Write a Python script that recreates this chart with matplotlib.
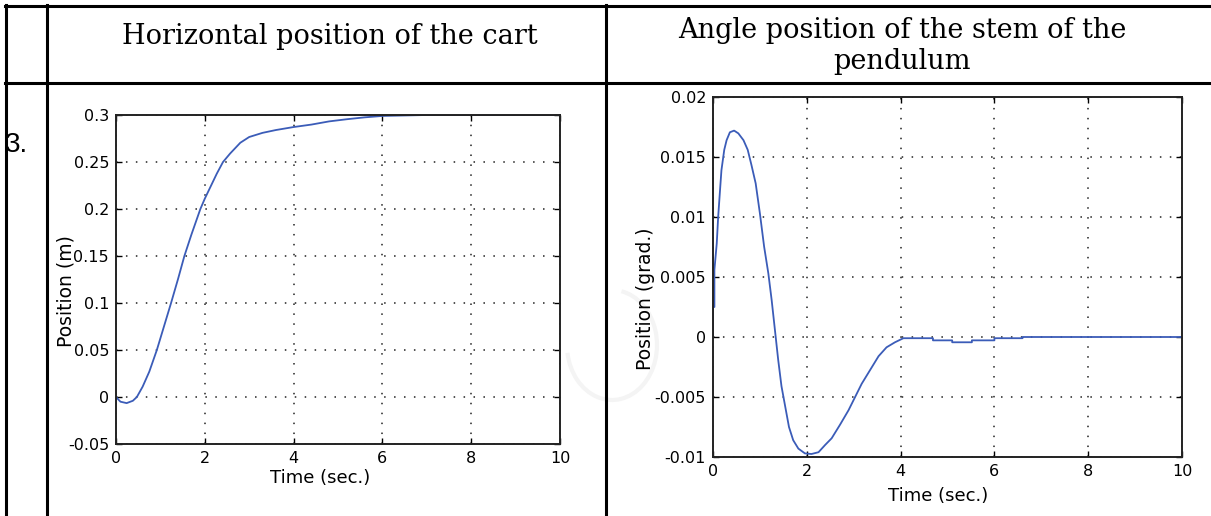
import numpy as np
import matplotlib.pyplot as plt
from matplotlib.patches import Arc

# datos
cart_t = [0, 0.1, 0.24, 0.38, 0.47, 0.6, 0.75, 0.92, 1.08, 1.24, 1.4, 1.54, 1.7, 1.9,
          2.0, 2.27, 2.41, 2.57, 2.8, 3.0, 3.3, 3.6, 4.0, 4.4, 4.8, 5.2, 5.6, 6.0, 6.5, 7.0, 10]
cart_x = [0, -0.005, -0.0065, -0.004, 0, 0.011, 0.027, 0.05, 0.075, 0.1, 0.126, 0.15, 0.173, 0.2,
          0.211, 0.2376, 0.25, 0.259, 0.2705, 0.2766, 0.281, 0.284, 0.2872, 0.2898, 0.2932,
          0.2955, 0.2975, 0.299, 0.2995, 0.3, 0.3]

ang_t = [0, 0.0, 0.03, 0.03, 0.08, 0.11, 0.15, 0.18, 0.24, 0.29, 0.36, 0.45, 0.54, 0.65, 0.74,
         0.82, 0.91, 1.0, 1.09, 1.18, 1.25, 1.32, 1.39, 1.46, 1.54, 1.62, 1.71, 1.82, 1.96, 2.1,
         2.25, 2.39, 2.53, 2.71, 2.89, 3.03, 3.17, 3.35, 3.53, 3.7, 3.88, 4.06, 4.69, 4.69, 5.1,
         5.1, 5.52, 5.52, 6.0, 6.0, 6.6, 6.6, 10]
ang_y = [0, 0.0025, 0.0025, 0.0056, 0.0078, 0.01, 0.01225, 0.0139, 0.0156, 0.0164, 0.01706,
         0.0172, 0.01697, 0.0164, 0.0156, 0.01433, 0.0128, 0.0103, 0.00753, 0.0053, 0.0031,
         0.0006, -0.0019, -0.0041, -0.0058, -0.0075, -0.0086, -0.0093, -0.0097, -0.00975,
         -0.0096, -0.009, -0.00844, -0.0073, -0.0061, -0.005, -0.0039, -0.00275, -0.0016,
         -0.00086, -0.00044, -0.0001, -0.0001, -0.00028, -0.00028, -0.00044, -0.00044,
         -0.00028, -0.00028, -0.0001, -0.0001, 0, 0]

xticks = [0, 2, 4, 6, 8, 10]
cart_yticks = [-0.05, 0, 0.05, 0.1, 0.15, 0.2, 0.25, 0.3]
cart_ylabels = ['-0.05', '0', '0.05', '0.1', '0.15', '0.2', '0.25', '0.3']
ang_yticks = [-0.01, -0.005, 0, 0.005, 0.01, 0.015, 0.02]
ang_ylabels = ['-0.01', '-0.005', '0', '0.005', '0.01', '0.015', '0.02']

header_left = "Horizontal position of the cart"
header_right = ["Angle position of the stem of the", "pendulum"]

W, H = 1211, 516
fig = plt.figure(figsize=(W / 100, H / 100), dpi=100)

# capa de fondo en pixeles para la tabla
bg = fig.add_axes([0, 0, 1, 1])
bg.set_xlim(0, W)
bg.set_ylim(H, 0)
bg.axis('off')

lw = 2.2
bg.plot([5, W], [6, 6], color='black', lw=lw)
bg.plot([5, W], [83, 83], color='black', lw=lw)
for xv in [6, 47, 606]:
    bg.plot([xv, xv], [5, H], color='black', lw=lw)

# marca de agua muy tenue
bg.add_patch(Arc((612, 345), 90, 110, theta1=-80, theta2=170, color='#f4f4f4', lw=3))

serif = ['DejaVu Serif']
bg.text(330, 44, header_left, ha='center', va='baseline', fontsize=19.5, family=serif)
bg.text(902, 38, header_right[0], ha='center', va='baseline', fontsize=19.5, family=serif)
bg.text(902, 69, header_right[1], ha='center', va='baseline', fontsize=19.5, family=serif)
bg.text(5, 145, "3.", ha='left', va='center', fontsize=20, family='Liberation Sans')

line_color = '#3b5cb8'
sans = 'DejaVu Sans'


def estilo(ax, yticks, ylabels, ylim):
    ax.set_xlim(0, 10)
    ax.set_ylim(*ylim)
    ax.set_xticks(xticks)
    ax.set_xticklabels([str(v) for v in xticks], family=sans, fontsize=11.5)
    ax.set_yticks(yticks)
    ax.set_yticklabels(ylabels, family=sans, fontsize=11.5)
    ax.tick_params(direction='in', length=4, width=1, top=True, right=True, pad=5)
    ax.grid(True, color='#222222', linestyle=(0, (1, 5.5)), linewidth=1.1)
    for s in ax.spines.values():
        s.set_linewidth(1.4)
        s.set_color('#222222')
    ax.set_facecolor('white')


ax1 = fig.add_axes([116 / W, (H - 444) / H, 444 / W, 329 / H])
ax1.plot(cart_t, cart_x, color=line_color, lw=1.3)
estilo(ax1, cart_yticks, cart_ylabels, (-0.05, 0.3))
ax1.set_xlabel('Time (sec.)', family=sans, fontsize=13)
ax1.set_ylabel('Position (m)', family=sans, fontsize=13.5)
ax1.xaxis.set_label_coords(0.46, -0.075)
ax1.yaxis.set_label_coords(-0.092, 0.465)

ax2 = fig.add_axes([713 / W, (H - 457) / H, 469 / W, 360 / H])
ax2.plot(ang_t, ang_y, color=line_color, lw=1.3)
estilo(ax2, ang_yticks, ang_ylabels, (-0.01, 0.02))
ax2.set_xlabel('Time (sec.)', family=sans, fontsize=13)
ax2.set_ylabel('Position (grad.)', family=sans, fontsize=13.5)
ax2.xaxis.set_label_coords(0.48, -0.082)
ax2.yaxis.set_label_coords(-0.124, 0.44)

fig.savefig('out.png', dpi=100)
